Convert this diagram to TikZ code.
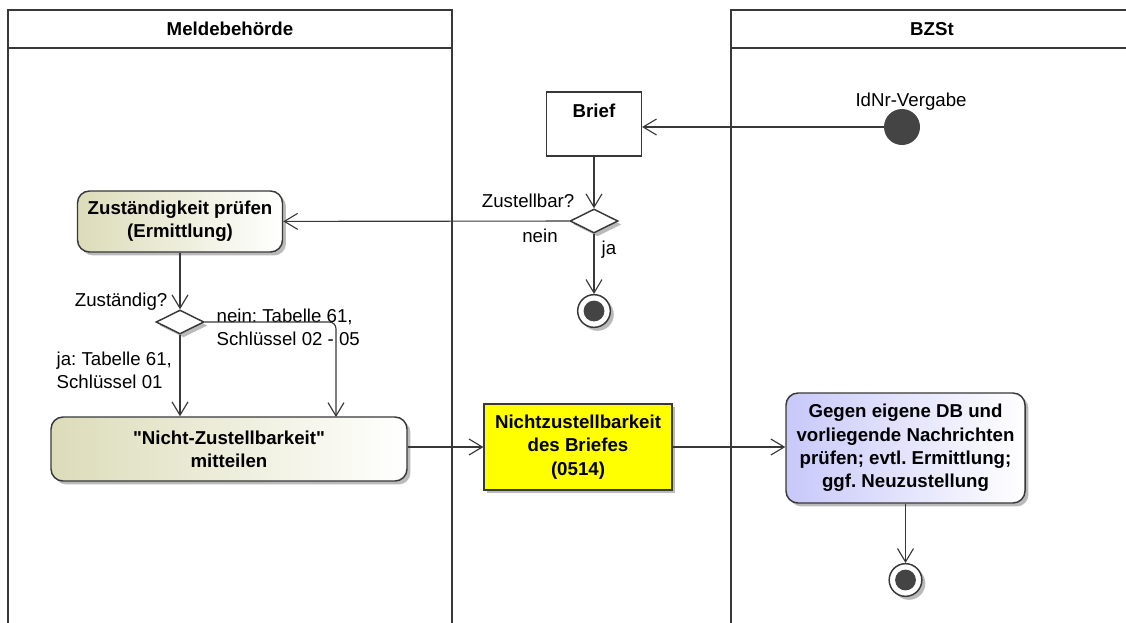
\documentclass[tikz,border=0pt]{standalone}
\usepackage{fontspec}
\setmainfont{Liberation Sans}
\usetikzlibrary{arrows.meta,shapes.geometric,shadows}
\definecolor{umlline}{HTML}{383838}
\definecolor{umldot}{HTML}{444444}
\definecolor{umlolive}{RGB}{220,220,185}
\definecolor{umlblue}{RGB}{200,200,250}
\definecolor{umlyellow}{RGB}{255,255,0}
\newcommand{\umlfont}{\fontsize{14}{17.5}\selectfont\frenchspacing}
\tikzset{
  lane/.style={draw=umlline, line width=1.9pt},
  umlshadow/.style={drop shadow={shadow xshift=2.6pt, shadow yshift=-2.6pt, fill=black!45, opacity=.6}},
  action/.style={draw=umlline, line width=1.1pt, rounded corners=9pt, align=center,
    font=\umlfont\bfseries, inner sep=0pt, umlshadow},
  olive/.style={action, left color=umlolive, right color=white},
  lavender/.style={action, left color=umlblue, right color=white},
  objbox/.style={draw=umlline, line width=0.9pt, fill=white, inner sep=0pt,
    minimum width=71.25pt, minimum height=48pt},
  notebox/.style={draw=umlline, line width=0.9pt, fill=umlyellow, align=center,
    font=\umlfont\bfseries, inner sep=0pt, umlshadow},
  decision/.style={diamond, draw=umlline, line width=1.1pt, fill=white, inner sep=0pt,
    minimum width=36pt, minimum height=18pt, umlshadow},
  startdot/.style={circle, fill=umldot, inner sep=0pt, minimum size=27pt},
  enddot/.style={circle, draw=umlline, line width=1.1pt, fill=white, inner sep=0pt,
    minimum size=24.5pt, umlshadow,
    path picture={\fill[umldot] (path picture bounding box.center) circle (7.8pt);}},
  flow/.style={draw=umlline, line width=0.85pt, -{Straight Barb[length=10pt,width=12pt,line width=0.85pt]}}
}
\begin{document}
\begin{tikzpicture}[x=0.75pt,y=-0.75pt, font=\umlfont]
  \useasboundingbox (0,0) rectangle (1126,622);
  \clip (0,0) rectangle (1126,622);

  % swimlanes
  \draw[lane] (8,630) -- (8,10) -- (452,10) -- (452,630);
  \draw[lane] (8,48) -- (452,48);
  \node[font=\umlfont\bfseries] (meldetitle) at (230,29) {Meldebehörde};
  \draw[lane] (731,630) -- (731,10) -- (1140,10);
  \draw[lane] (731,48) -- (1140,48);
  \node[font=\umlfont\bfseries] (bzsttitle) at (932,29) {BZSt};

  % BZSt: start
  \node[startdot] (start) at (902,127) {};
  \node (startlabel) at (911,102) {IdNr-Vergabe};

  % Brief and first decision
  \node[objbox] (brief) at (594,124) {};
  \node[font=\umlfont\bfseries] (brieflabel) at (594,111) {Brief};
  \node[decision] (zustellbar) at (594,221) {};
  \node[anchor=east] at (579,201) {Zustellbar?};
  \node at (540,236) {nein};
  \node[anchor=west] at (597,250) {ja};
  \node[enddot] (endbrief) at (594,311) {};

  % Meldebehoerde
  \node[olive, minimum width=153.75pt, minimum height=45.75pt] (zustpruefen) at (180,221.5)
    {Zuständigkeit prüfen\\(Ermittlung)};
  \node[decision] (zustaendig) at (180,322) {};
  \node[anchor=east] at (172,302) {Zuständig?};
  \node[anchor=west, align=left] at (212,327) {nein: Tabelle 61,\\Schlüssel 02 - 05};
  \node[anchor=west, align=left] at (52,370) {ja: Tabelle 61,\\Schlüssel 01};
  \node[olive, minimum width=267pt, minimum height=48pt] (mitteilen) at (229,449)
    {\textquotedbl Nicht-Zustellbarkeit\textquotedbl\\mitteilen};
  \coordinate (neinend) at (336,417);

  % Nachricht
  \node[notebox, minimum width=141pt, minimum height=64.5pt] (nzb) at (578,447)
    {Nichtzustellbarkeit\\des Briefes\\(0514)};

  % BZSt: Pruefung
  \node[lavender, minimum width=179.25pt, minimum height=82.5pt] (pruefen) at (905.5,448)
    {Gegen eigene DB und\\vorliegende Nachrichten\\prüfen; evtl. Ermittlung;\\ggf. Neuzustellung};
  \node[enddot] (endbzst) at (905.5,580) {};

  % connectors
  \draw[flow] (start) -- (start -| brief.east);
  \draw[flow] (brief) -- (zustellbar);
  \draw[flow] (zustellbar) -- (zustpruefen);
  \draw[flow] (zustellbar) -- (endbrief);
  \draw[flow] (zustpruefen) -- (zustaendig);
  \draw[flow] (zustaendig) -- (zustaendig |- mitteilen.north);
  \draw[flow, rounded corners=5pt] (zustaendig.east) -| (neinend);
  \draw[flow] (mitteilen.east |- nzb) -- (nzb);
  \draw[flow] (nzb) -- (nzb -| pruefen.west);
  \draw[flow] (pruefen) -- (endbzst);
\end{tikzpicture}
\end{document}
